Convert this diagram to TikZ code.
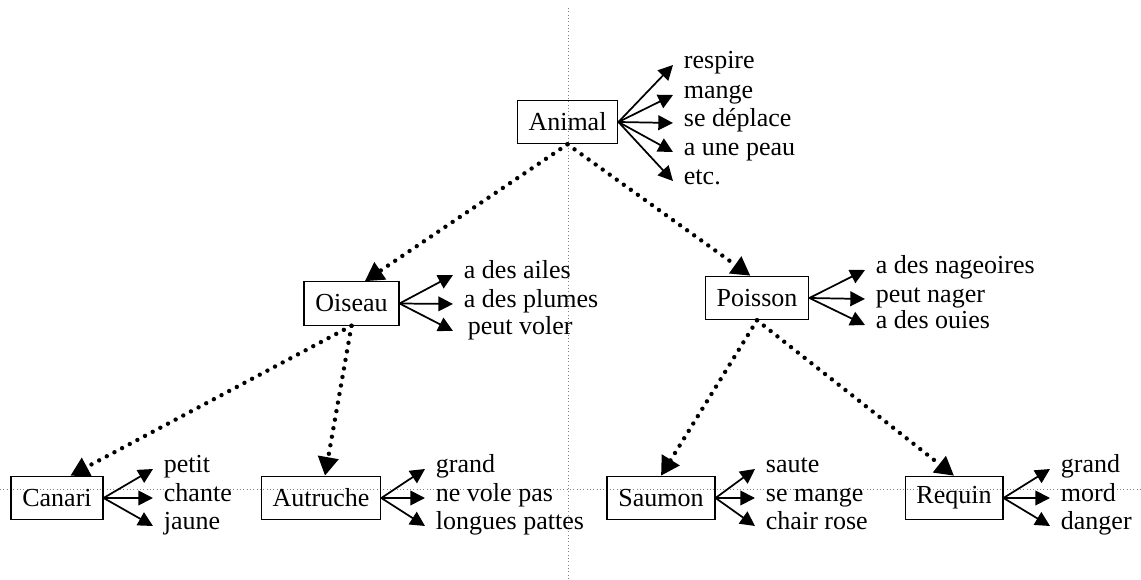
\documentclass[tikz,border=0pt]{standalone}
\usepackage{fontspec}
\setmainfont{Liberation Serif}
\usetikzlibrary{arrows.meta}
\usetikzlibrary{positioning}

\begin{document}
\begin{tikzpicture}[x=0.75pt,y=-0.75pt,
    font=\fontsize{19.5}{23}\selectfont,
    classe/.style={rectangle,draw,line width=0.9pt,minimum height=32.5pt,inner xsep=8.5pt},
    attr/.style={anchor=west,inner xsep=8pt,inner ysep=0pt,text height=0.7em,text depth=0.22em},
    trait/.style={line width=1.3pt,-{Triangle[length=11pt,width=11pt]}},
    isa/.style={line width=3.3pt,line cap=round,dash pattern=on 0pt off 6.5pt,-{Triangle[length=14pt,width=15pt]}},
    guide/.style={gray,line width=0.5pt,dotted}]
    \useasboundingbox (0,0) rectangle (1141,580);
    \draw[guide] (568,8) -- (568,580);
    \draw[guide] (0,489) -- (1141,489);

    \node[classe] (animal) at (567.5,122) {Animal};
    \node[classe] (oiseau) at (351.5,303.5) {Oiseau};
    \node[classe] (poisson) at (757,298) {Poisson};
    \node[classe] (canari) at (57,498) {Canari};
    \node[classe] (autruche) at (321,498) {Autruche};
    \node[classe] (saumon) at (661,498) {Saumon};
    \node[classe] (requin) at (954,498) {Requin};

    \node[attr] (animal1) at (673,65) {respire};
    \node[attr] (animal2) at (673,95) {mange};
    \node[attr] (animal3) at (673,123) {se déplace};
    \node[attr] (animal4) at (673,152) {a une peau};
    \node[attr] (animal5) at (673,181) {etc.};
    \node[attr] (oiseau1) at (453,275) {a des ailes};
    \node[attr] (oiseau2) at (453,304) {a des plumes};
    \node[attr] (oiseau3) at (453,331) {\hspace{3pt}peut voler};
    \node[attr] (poisson1) at (865,270) {a des nageoires};
    \node[attr] (poisson2) at (865,299) {peut nager};
    \node[attr] (poisson3) at (865,325) {a des ouies};
    \node[attr] (canari1) at (153,469) {petit};
    \node[attr] (canari2) at (153,498) {chante};
    \node[attr] (canari3) at (153,526) {jaune};
    \node[attr] (autruche1) at (425,469) {grand};
    \node[attr] (autruche2) at (425,498) {ne vole pas};
    \node[attr] (autruche3) at (425,526) {longues pattes};
    \node[attr] (saumon1) at (755,469) {saute};
    \node[attr] (saumon2) at (755,498) {se mange};
    \node[attr] (saumon3) at (755,526) {chair rose};
    \node[attr] (requin1) at (1050,469) {grand};
    \node[attr] (requin2) at (1050,498) {mord};
    \node[attr] (requin3) at (1050,526) {danger};

    \draw[trait] (animal.east) -- (animal1.west);
    \draw[trait] (animal.east) -- (animal2.west);
    \draw[trait] (animal.east) -- (animal3.west);
    \draw[trait] (animal.east) -- (animal4.west);
    \draw[trait] (animal.east) -- (animal5.west);
    \draw[trait] (oiseau.east) -- (oiseau1.west);
    \draw[trait] (oiseau.east) -- (oiseau2.west);
    \draw[trait] (oiseau.east) -- (oiseau3.west);
    \draw[trait] (poisson.east) -- (poisson1.west);
    \draw[trait] (poisson.east) -- (poisson2.west);
    \draw[trait] (poisson.east) -- (poisson3.west);
    \draw[trait] (canari.east) -- (canari1.west);
    \draw[trait] (canari.east) -- (canari2.west);
    \draw[trait] (canari.east) -- (canari3.west);
    \draw[trait] (autruche.east) -- (autruche1.west);
    \draw[trait] (autruche.east) -- (autruche2.west);
    \draw[trait] (autruche.east) -- (autruche3.west);
    \draw[trait] (saumon.east) -- (saumon1.west);
    \draw[trait] (saumon.east) -- (saumon2.west);
    \draw[trait] (saumon.east) -- (saumon3.west);
    \draw[trait] (requin.east) -- (requin1.west);
    \draw[trait] (requin.east) -- (requin2.west);
    \draw[trait] (requin.east) -- (requin3.west);

    \draw[isa] (animal.south) -- ([xshift=10pt]oiseau.north);
    \draw[isa] (animal.south) -- ([xshift=-5pt]poisson.north);
    \draw[isa] (oiseau.south) -- ([xshift=10pt]canari.north);
    \draw[isa] (oiseau.south) -- ([xshift=3pt]autruche.north);
    \draw[isa] (poisson.south) -- (saumon.north);
    \draw[isa] (poisson.south) -- (requin.north);
\end{tikzpicture}
\end{document}
